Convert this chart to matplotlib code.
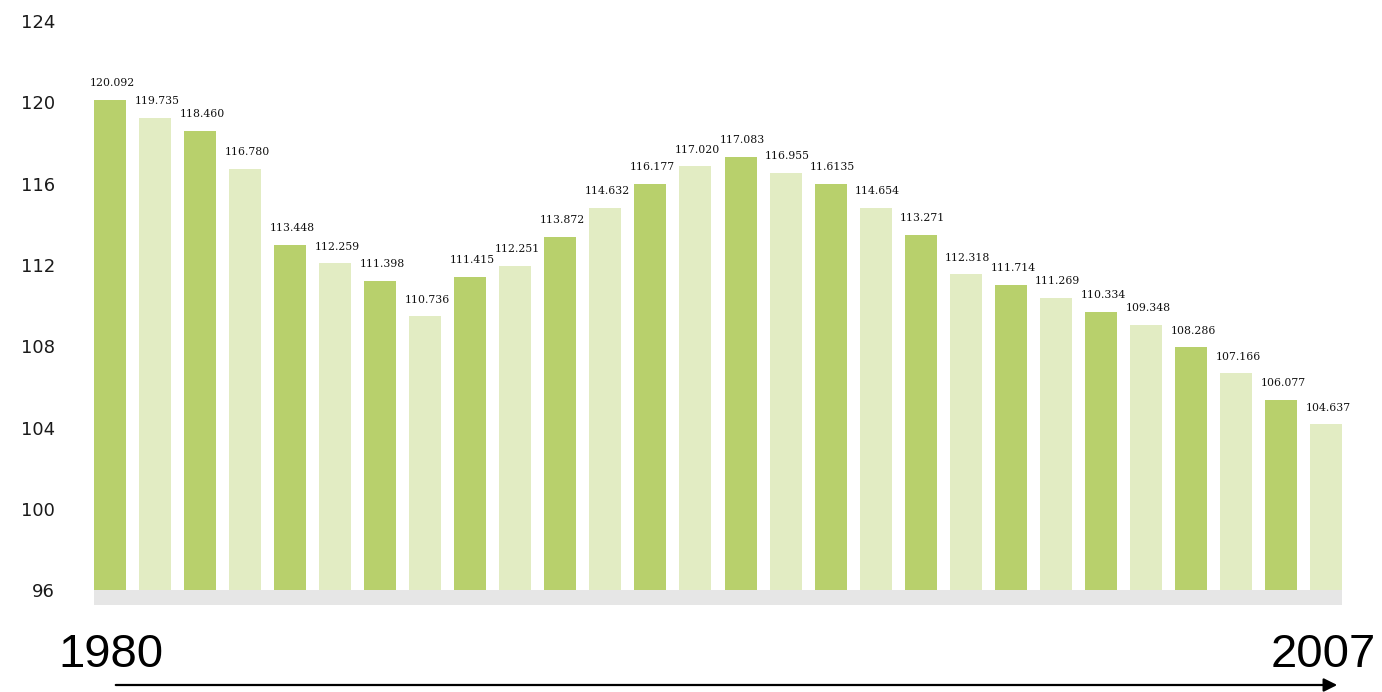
import matplotlib
matplotlib.use("Agg")
import matplotlib.pyplot as plt
import numpy as np

# Werte (Balkenhöhen) und die beschrifteten Zahlen
years = list(range(1980, 2008))
bar_values = [
    120.11, 119.23, 118.59, 116.73, 112.99, 112.08, 111.21, 109.47,
    111.43, 111.97, 113.39, 114.81, 116.00, 116.86, 117.32, 116.53,
    116.00, 114.81, 113.47, 111.54, 111.02, 110.37, 109.68, 109.06,
    107.95, 106.66, 105.35, 104.16,
]
value_labels = [
    "120.092", "119.735", "118.460", "116.780", "113.448", "112.259",
    "111.398", "110.736", "111.415", "112.251", "113.872", "114.632",
    "116.177", "117.020", "117.083", "116.955", "11.6135", "114.654",
    "113.271", "112.318", "111.714", "111.269", "110.334", "109.348",
    "108.286", "107.166", "106.077", "104.637",
]
y_ticks = [96, 100, 104, 108, 112, 116, 120, 124]

DARK_GREEN = "#b8d06c"
LIGHT_GREEN = "#e2ecc3"
BASE_GRAY = "#e6e6e6"
BASE = 96

fig = plt.figure(figsize=(13.82, 6.92), dpi=100)
ax = fig.add_axes([94 / 1382, 87 / 692, 1248 / 1382, 588 / 692])

positions = np.arange(len(years))
colors = [DARK_GREEN if i % 2 == 0 else LIGHT_GREEN for i in positions]
heights = np.array(bar_values) - BASE
ax.bar(positions, heights, bottom=BASE, width=0.711, color=colors, linewidth=0)

y_bottom = 95.27
ax.axhspan(y_bottom, BASE, color=BASE_GRAY, linewidth=0)

for pos, value, label in zip(positions, bar_values, value_labels):
    ax.annotate(
        label,
        xy=(pos, value),
        xytext=(1.5, 12),
        textcoords="offset points",
        ha="center",
        va="center",
        fontsize=7.8,
        family="DejaVu Serif",
        color="#111111",
    )

ax.set_xlim(-0.356, 27.356)
ax.set_ylim(y_bottom, 124.2)
ax.set_xticks([])
ax.set_yticks(y_ticks, [str(t) for t in y_ticks])
ax.tick_params(axis="y", length=0, pad=28, labelsize=13, labelcolor="#1a1a1a")
for spine in ax.spines.values():
    spine.set_visible(False)

fig.text(58 / 1382, 1 - 667 / 692, str(years[0]), fontsize=34,
         family="Liberation Sans", ha="left", va="baseline")
fig.text(1376 / 1382, 1 - 667 / 692, str(years[-1]), fontsize=34,
         family="Liberation Sans", ha="right", va="baseline")
fig.add_artist(
    matplotlib.patches.FancyArrowPatch(
        (113 / 1382, 1 - 685 / 692),
        (1340 / 1382, 1 - 685 / 692),
        transform=fig.transFigure,
        arrowstyle="-|>",
        mutation_scale=20,
        linewidth=1.6,
        color="black",
    )
)

fig.savefig("out.png", dpi=100)
